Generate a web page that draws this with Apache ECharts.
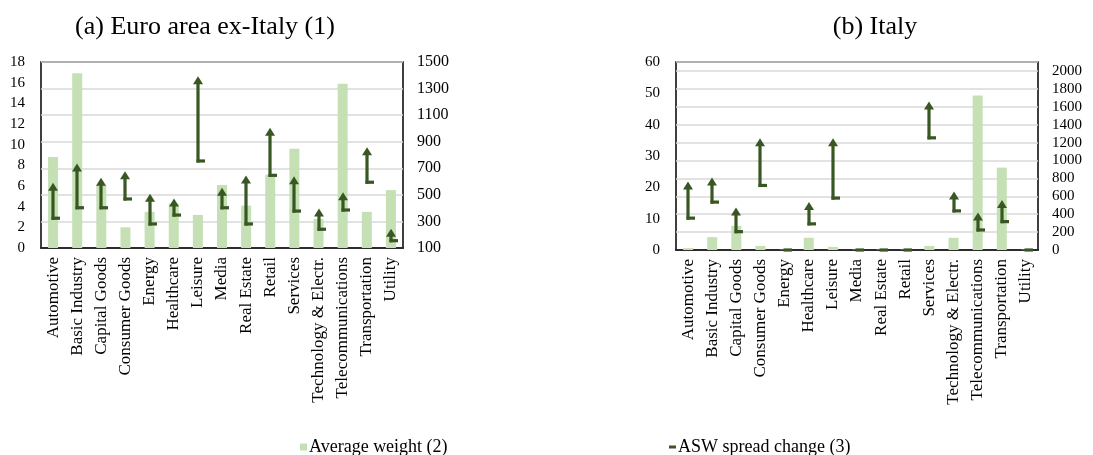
<!DOCTYPE html>
<html>
<head>
<meta charset="utf-8">
<script src="https://cdn.jsdelivr.net/npm/echarts@6/dist/echarts.min.js"></script>
<style>
  html, body { margin: 0; padding: 0; background: #fff; }
  #chart { width: 1093px; height: 455px; }
</style>
</head>
<body>
<div id="chart"></div>
<script>
// sectors, same order in both panels
var sectors = ['Automotive', 'Basic Industry', 'Capital Goods', 'Consumer Goods', 'Energy', 'Healthcare',
  'Leisure', 'Media', 'Real Estate', 'Retail', 'Services', 'Technology & Electr.', 'Telecommunications',
  'Transportation', 'Utility'];

// (a) Euro area ex-Italy
var weightEA = [8.8, 16.9, 6.1, 2.0, 3.5, 4.3, 3.2, 6.1, 4.1, 7.1, 9.6, 2.8, 15.9, 3.5, 5.6];
var spreadStartEA = [324, 403, 403, 469, 281, 348, 755, 403, 281, 647, 378, 241, 386, 595, 155];
var spreadEndEA = [587, 732, 625, 674, 504, 469, 1389, 549, 642, 1001, 637, 394, 516, 855, 241];

// (b) Italy
var weightIT = [0.6, 4.1, 7.7, 1.3, 0.1, 3.9, 1.0, 0.1, 0.1, 0.1, 1.3, 3.9, 49.3, 26.3, 0.1];
var spreadStartIT = [356, 535, 205, 721, 0, 292, 580, 0, 0, 0, 1253, 437, 224, 317, 0];
var spreadEndIT = [759, 804, 468, 1242, 0, 531, 1242, 0, 0, 0, 1652, 647, 412, 553, 0];

var light = '#c5e0b4';
var dark = '#385723';
var serif = 'Liberation Serif';

function arrowData(start, end) {
  var out = [];
  for (var i = 0; i < start.length; i++) out.push([i, start[i], end[i]]);
  return out;
}

// vertical arrow from start to end, small dash at the start
function renderArrow(params, api) {
  var p0 = api.coord([api.value(0), api.value(1)]);
  var p1 = api.coord([api.value(0), api.value(2)]);
  var x = Math.round(p0[0]);
  var kids = [{
    type: 'line',
    shape: { x1: x - 1.5, y1: p0[1], x2: x + 7, y2: p0[1] },
    style: { stroke: dark, lineWidth: 3.2 }
  }];
  if (api.value(2) !== api.value(1)) {
    kids.push({
      type: 'line',
      shape: { x1: x, y1: p0[1] + 1.6, x2: x, y2: p1[1] + 6 },
      style: { stroke: dark, lineWidth: 3.2 }
    });
    kids.push({
      type: 'polygon',
      shape: { points: [[x, p1[1] - 0.5], [x - 5, p1[1] + 7.5], [x + 5, p1[1] + 7.5]] },
      style: { fill: dark }
    });
  }
  return { type: 'group', children: kids };
}

function catAxis(grid) {
  return {
    type: 'category', gridIndex: grid, data: sectors,
    axisTick: { show: false },
    axisLine: { lineStyle: { color: '#000', width: 1.5 } },
    axisLabel: { rotate: 90, interval: 0, margin: 9, fontFamily: serif, fontSize: 17, color: '#000' }
  };
}

function valAxis(grid, pos, min, max, step, split, size) {
  return {
    type: 'value', gridIndex: grid, position: pos, min: min, max: max, interval: step,
    axisLine: { show: false }, axisTick: { show: false },
    splitLine: { show: split, lineStyle: { color: '#d9d9d9', width: 1.5 } },
    axisLabel: {
      fontFamily: serif, fontSize: size, color: '#000', margin: pos === 'left' ? 16 : 14,
      showMaxLabel: max !== 2100,
      formatter: function (v) { return String(v); }
    }
  };
}

var chart = echarts.init(document.getElementById('chart'), null, { renderer: 'canvas' });
chart.setOption({
  animation: false,
  backgroundColor: '#fff',
  title: [
    { text: '(a) Euro area ex-Italy (1)', left: 200, top: 9, textAlign: 'center',
      textStyle: { fontFamily: serif, fontSize: 26, fontWeight: 'normal', color: '#000' } },
    { text: '(b) Italy', left: 870, top: 9, textAlign: 'center',
      textStyle: { fontFamily: serif, fontSize: 26, fontWeight: 'normal', color: '#000' } }
  ],
  legend: [
    { data: ['Average weight (2)'], left: 300, top: 438, padding: 0, itemWidth: 7, itemHeight: 7,
      icon: 'rect', textStyle: { fontFamily: serif, fontSize: 18, color: '#000', padding: [0, 0, 0, -3] } },
    { data: ['ASW spread change (3)'], left: 669, top: 438, padding: 0, itemWidth: 7, itemHeight: 3,
      icon: 'rect', textStyle: { fontFamily: serif, fontSize: 18, color: '#000', padding: [0, 0, 0, -3] } }
  ],
  grid: [
    { left: 41, top: 62, width: 362, height: 186, show: true, borderColor: '#000', borderWidth: 1.5 },
    { left: 676, top: 62, width: 362, height: 188, show: true, borderColor: '#000', borderWidth: 1.5 }
  ],
  xAxis: [catAxis(0), catAxis(1)],
  yAxis: [
    valAxis(0, 'left', 0, 18, 2, false, 15),
    valAxis(0, 'right', 100, 1500, 200, true, 16),
    valAxis(1, 'left', 0, 60, 10, false, 15),
    valAxis(1, 'right', 0, 2100, 200, true, 15)
  ],
  series: [
    { name: 'Average weight (2)', type: 'bar', xAxisIndex: 0, yAxisIndex: 0, data: weightEA,
      barWidth: 10, itemStyle: { color: light } },
    { name: 'ASW spread change (3)', type: 'custom', xAxisIndex: 0, yAxisIndex: 1,
      data: arrowData(spreadStartEA, spreadEndEA), renderItem: renderArrow, itemStyle: { color: dark }, z: 5 },
    { name: 'Average weight (2)', type: 'bar', xAxisIndex: 1, yAxisIndex: 2, data: weightIT,
      barWidth: 10, itemStyle: { color: light } },
    { name: 'ASW spread change (3)', type: 'custom', xAxisIndex: 1, yAxisIndex: 3,
      data: arrowData(spreadStartIT, spreadEndIT), renderItem: renderArrow, itemStyle: { color: dark }, z: 5 }
  ]
});
</script>
</body>
</html>
